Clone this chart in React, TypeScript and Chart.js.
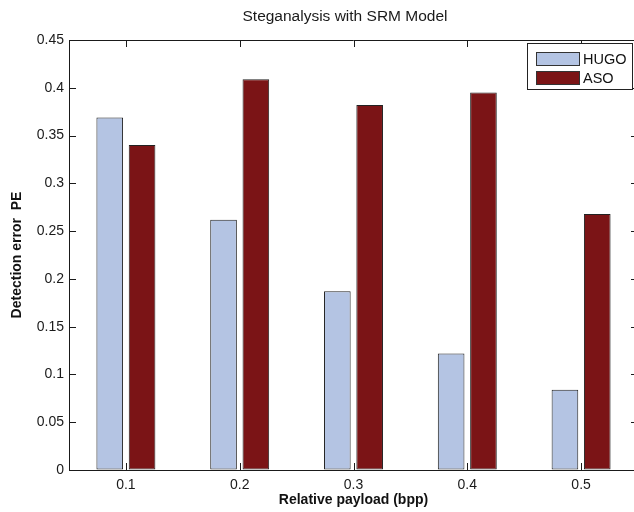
import React, { useEffect, useRef } from "react";
import { Chart, registerables } from "chart.js";

Chart.register(...registerables);

const categories = ["0.1", "0.2", "0.3", "0.4", "0.5"];
const hugoValues = [0.369, 0.262, 0.187, 0.122, 0.084];
const asoValues = [0.34, 0.409, 0.382, 0.395, 0.268];
const yTicks = [0, 0.05, 0.1, 0.15, 0.2, 0.25, 0.3, 0.35, 0.4, 0.45];
const seriesNames = ["HUGO", "ASO"];
const seriesColors = ["#b4c4e3", "#7b1416"];

const titleText = "Steganalysis with SRM Model";
const xTitle = "Relative payload (bpp)";
const yTitle = "Detection error  PE";

const FONT = "'Liberation Sans', Arial, Helvetica, sans-serif";
const TICK_LEN = 7;

const framePlugin = {
  id: "matlabFrame",
  afterDraw(chart: any) {
    const { ctx, chartArea } = chart;
    const { left, right, top, bottom } = chartArea;
    const xs = chart.scales.x;
    const ys = chart.scales.y;
    ctx.save();
    ctx.strokeStyle = "#1a1a1a";
    ctx.lineWidth = 1;
    ctx.beginPath();
    ctx.moveTo(left, top + 0.5);
    ctx.lineTo(right, top + 0.5);
    ctx.moveTo(right - 0.5, top);
    ctx.lineTo(right - 0.5, bottom);
    yTicks.forEach((v) => {
      const y = Math.round(ys.getPixelForValue(v)) + 0.5;
      ctx.moveTo(left, y);
      ctx.lineTo(left + TICK_LEN, y);
      ctx.moveTo(right, y);
      ctx.lineTo(right - TICK_LEN, y);
    });
    categories.forEach((_, i) => {
      const x = Math.round(xs.getPixelForValue(i)) + 0.5;
      ctx.moveTo(x, bottom);
      ctx.lineTo(x, bottom - TICK_LEN);
      ctx.moveTo(x, top);
      ctx.lineTo(x, top + TICK_LEN);
    });
    ctx.stroke();

    // title
    ctx.fillStyle = "#1a1a1a";
    ctx.font = `15.5px ${FONT}`;
    ctx.textAlign = "center";
    ctx.textBaseline = "middle";
    ctx.fillText(titleText, 345, 17);

    // legend
    const bx = 527.5, by = 43.5, bw = 105, bh = 46;
    ctx.fillStyle = "#fff";
    ctx.fillRect(bx, by, bw, bh);
    ctx.strokeStyle = "#222";
    ctx.strokeRect(bx, by, bw, bh);
    chart.data.datasets.forEach((ds: any, i: number) => {
      const sy = 52.5 + i * 19;
      ctx.fillStyle = ds.backgroundColor;
      ctx.fillRect(536.5, sy, 43, 13);
      ctx.strokeStyle = "#333";
      ctx.strokeRect(536.5, sy, 43, 13);
      ctx.fillStyle = "#111";
      ctx.font = `14.5px ${FONT}`;
      ctx.textAlign = "left";
      ctx.textBaseline = "middle";
      ctx.fillText(ds.label, 583, sy + 7);
    });
    ctx.restore();
  },
};

export default function App() {
  const ref = useRef<HTMLCanvasElement>(null);
  useEffect(() => {
    document.body.style.margin = "0";
    const canvas = ref.current!;
    const chart = new Chart(canvas, {
      type: "bar",
      data: {
        labels: categories,
        datasets: [hugoValues, asoValues].map((vals, i) => ({
          label: seriesNames[i],
          data: vals,
          backgroundColor: seriesColors[i],
          borderColor: "#222",
          borderWidth: 1,
          borderSkipped: false,
          categoryPercentage: 0.568,
          barPercentage: 0.824,
        })),
      },
      options: {
        responsive: false,
        animation: false,
        devicePixelRatio: 1,
        layout: { padding: { left: 0, right: 22, top: 40, bottom: 0 } },
        plugins: {
          legend: { display: false },
          title: { display: false },
          tooltip: { enabled: false },
        },
        scales: {
          x: {
            grid: { drawOnChartArea: false, drawTicks: false },
            border: { display: true, color: "#1a1a1a", width: 1 },
            ticks: { padding: 7, color: "#1a1a1a", font: { family: FONT, size: 14 } },
            title: {
              display: true,
              text: xTitle,
              color: "#111",
              font: { family: FONT, size: 14, weight: "bold" },
              padding: { top: 0, bottom: 3 },
            },
            afterFit: (s: any) => {
              s.height = 42;
            },
          },
          y: {
            min: 0,
            max: 0.45,
            grid: { drawOnChartArea: false, drawTicks: false },
            border: { display: true, color: "#1a1a1a", width: 1 },
            afterBuildTicks: (s: any) => {
              s.ticks = yTicks.map((v) => ({ value: v }));
            },
            ticks: {
              padding: 5,
              color: "#1a1a1a",
              font: { family: FONT, size: 14 },
              callback: (v: any) => String(Number(Number(v).toFixed(2))),
            },
            title: {
              display: true,
              text: yTitle,
              color: "#111",
              font: { family: FONT, size: 14, weight: "bold" },
              padding: { top: 9, bottom: 0 },
            },
            afterFit: (s: any) => {
              s.width = 69;
            },
          },
        },
      } as any,
      plugins: [framePlugin],
    });
    return () => chart.destroy();
  }, []);
  return (
    <div style={{ position: "fixed", left: 0, top: 0, width: 634, height: 512, overflow: "hidden", background: "#fff" }}>
      <canvas ref={ref} width={660} height={512} style={{ display: "block", width: 660, height: 512 }} />
    </div>
  );
}
